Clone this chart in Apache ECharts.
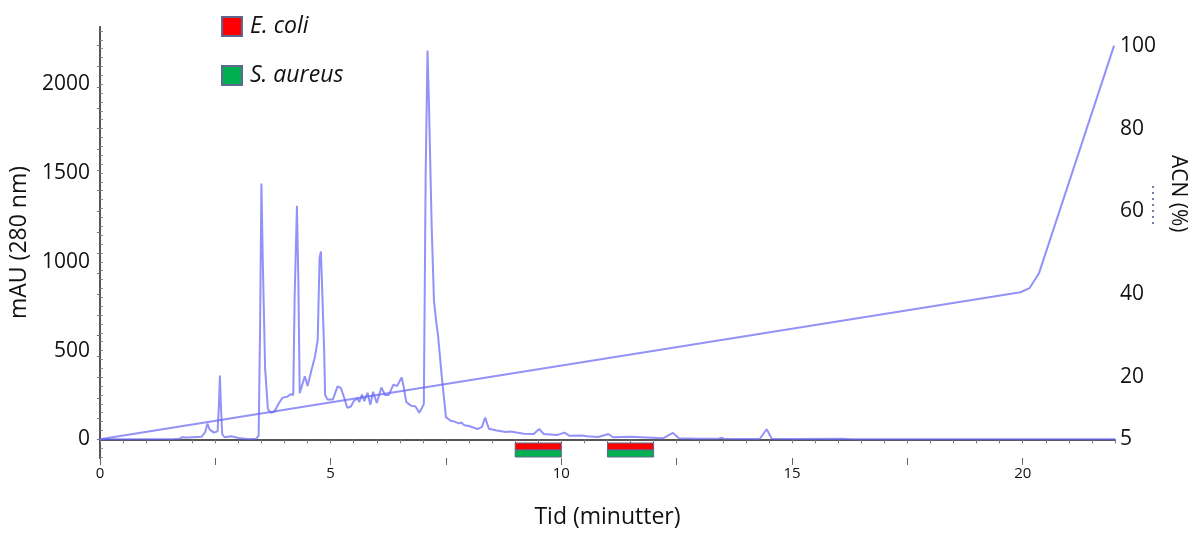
<!DOCTYPE html>
<html>
<head>
<meta charset="utf-8">
<script src="https://cdn.jsdelivr.net/npm/echarts@6/dist/echarts.min.js"></script>
<style>
  html, body { margin: 0; padding: 0; background: #fff; }
  #chart { width: 1193px; height: 534px; }
</style>
</head>
<body>
<div id="chart"></div>
<script>
// chromatogram (280 nm), time in minutes
const times = [0, 1.0, 1.6, 1.72, 1.78, 1.9, 2.2, 2.28, 2.33, 2.38, 2.47, 2.55, 2.58, 2.6, 2.62, 2.65, 2.7, 2.85, 3.0, 3.2,
  3.38, 3.44, 3.47, 3.5, 3.53, 3.58, 3.64, 3.7, 3.78, 3.88, 3.96, 4.06, 4.14, 4.19, 4.22, 4.27, 4.3, 4.33, 4.36, 4.44,
  4.5, 4.53, 4.58, 4.66, 4.72, 4.76, 4.79, 4.82, 4.86, 4.88, 4.93, 5.05, 5.15, 5.22, 5.3, 5.36, 5.44, 5.5, 5.58, 5.62,
  5.68, 5.73, 5.8, 5.86, 5.92, 6.0, 6.1, 6.18, 6.26, 6.36, 6.44, 6.54, 6.58, 6.64, 6.74, 6.84, 6.92, 6.98, 7.02, 7.06,
  7.1, 7.13, 7.19, 7.24, 7.29, 7.33, 7.41, 7.5, 7.6, 7.68, 7.78, 7.83, 7.9, 8.0, 8.18, 8.28, 8.35, 8.43, 8.6, 8.8, 8.9,
  9.19, 9.4, 9.52, 9.62, 9.9, 10.07, 10.17, 10.45, 10.55, 10.8, 11.02, 11.12, 11.5, 12.2, 12.42, 12.55, 13.0, 13.42, 13.47, 13.53,
  14.3, 14.45, 14.56, 15.0, 16.1, 16.3, 18.0, 20.0, 22.0];
const absorbance = [0, 0, 2, 3, 12, 10, 14, 40, 88, 55, 38, 45, 200, 360, 200, 30, 12, 18, 8, 2,
  3, 20, 600, 1440, 1000, 400, 170, 150, 155, 205, 235, 240, 255, 250, 800, 1315, 900, 260, 270, 355,
  300, 295, 385, 465, 560, 1020, 1058, 1050, 500, 250, 225, 225, 298, 290, 230, 178, 185, 215, 232, 210,
  252, 215, 262, 195, 268, 205, 292, 250, 250, 308, 300, 348, 300, 210, 190, 185, 150, 178, 200, 1500,
  2190, 1900, 1200, 780, 660, 580, 350, 125, 105, 100, 90, 95, 80, 75, 58, 70, 122, 60, 50, 42, 44,
  31, 30, 58, 30, 24, 38, 20, 22, 18, 13, 30, 12, 14, 6, 36, 6, 3, 5, 9, 4,
  2, 57, 4, 2, 4, 1, 0, 0, 0];

// acetonitrile gradient (%)
const gradTimes = [0, 19.95, 20.15, 20.35, 21.98];
const gradAcn = [5, 40.5, 41.5, 45, 100];

// collected fractions [start, end] in minutes
const ecoliFractions = [[9, 10], [11, 12]];
const saureusFractions = [[9, 10], [11, 12]];

// tick labels
const xLabels = [0, 5, 10, 15, 20];
const mauLabels = [0, 500, 1000, 1500, 2000];
const acnLabels = [5, 20, 40, 60, 80, 100];

const range = (a, b, step) => {
  const out = [];
  for (let v = a; v <= b + 1e-9; v += step) out.push(+v.toFixed(3));
  return out;
};

const chart = echarts.init(document.getElementById('chart'));

const fractionItem = (top, fill) => (params, api) => {
  const p0 = api.coord([api.value(0), 0]);
  const p1 = api.coord([api.value(1), 0]);
  const bottom = params.coordSys.y + params.coordSys.height;
  return {
    type: 'rect',
    shape: { x: p0[0], y: bottom + top, width: p1[0] - p0[0], height: 7 },
    style: { fill: fill, stroke: '#5a6a8c', lineWidth: 1 }
  };
};

const labelFont = { color: '#111', fontFamily: 'Open Sans', fontSize: 21 };
const plain = (v) => String(v);

chart.setOption({
  backgroundColor: '#fff',
  animation: false,
  grid: { left: 98, right: 78, top: 27, bottom: 70 },
  legend: {
    orient: 'vertical',
    left: 216,
    top: 10,
    itemWidth: 20,
    itemHeight: 19,
    itemGap: 26,
    icon: 'rect',
    data: ['E. coli', 'S. aureus'],
    textStyle: { color: '#111', fontFamily: 'Open Sans', fontStyle: 'italic', fontSize: 23, padding: [0, 0, 0, 3] }
  },
  xAxis: [
    {
      type: 'value', min: 0, max: 22,
      name: 'Tid (minutter)', nameLocation: 'middle', nameGap: 48,
      nameTextStyle: { color: '#111', fontFamily: 'Open Sans', fontSize: 23 },
      axisLine: { lineStyle: { color: '#555', width: 2 } },
      axisTick: { customValues: range(0, 22, 0.5), length: 4, lineStyle: { color: '#777' } },
      axisLabel: { customValues: xLabels, formatter: plain, color: '#111', fontFamily: 'Open Sans', fontSize: 15, margin: 8 },
      splitLine: { show: false }
    },
    {
      type: 'value', min: 0, max: 22, position: 'bottom',
      axisLine: { show: false },
      axisTick: { customValues: range(0, 22, 2.5), length: 7, lineStyle: { color: '#666' } },
      axisLabel: { show: false },
      splitLine: { show: false }
    }
  ],
  yAxis: [
    {
      type: 'value', min: -105, max: 2322,
      name: 'mAU (280 nm)', nameLocation: 'middle', nameGap: 56,
      nameTextStyle: { color: '#111', fontFamily: 'Open Sans', fontSize: 23 },
      axisLine: { show: true, lineStyle: { color: '#777', width: 2 } },
      axisTick: { customValues: range(-100, 2300, 50), length: 3, inside: true, lineStyle: { color: '#888' } },
      axisLabel: Object.assign({ customValues: mauLabels, formatter: plain, margin: 10 }, labelFont),
      splitLine: { show: false }
    },
    {
      type: 'value', min: 0.5, max: 104.5, position: 'right',
      axisLine: { show: true, lineStyle: { color: '#555', width: 2 } },
      axisTick: { customValues: range(5, 100, 5), length: 3, inside: true, lineStyle: { color: '#777' } },
      axisLabel: Object.assign({ customValues: acnLabels, formatter: plain, margin: 5 }, labelFont),
      splitLine: { show: false }
    }
  ],
  graphic: [
    {
      type: 'text', left: 1167, top: 155, rotation: -Math.PI / 2,
      style: { text: 'ACN (%)', fill: '#111', font: '21px "Open Sans"' }
    },
    {
      type: 'line', shape: { x1: 1153, y1: 186, x2: 1153, y2: 226 },
      style: { stroke: '#6f80a8', lineWidth: 2, lineDash: [2, 4] }
    }
  ],
  series: [
    {
      name: 'ACN', type: 'line', yAxisIndex: 1, symbol: 'none',
      lineStyle: { color: 'rgba(100,100,245,0.7)', width: 2 },
      data: gradTimes.map((t, i) => [t, gradAcn[i]]),
      z: 3
    },
    {
      name: 'A280', type: 'line', yAxisIndex: 0, symbol: 'none',
      lineStyle: { color: 'rgba(100,100,245,0.7)', width: 2 },
      data: times.map((t, i) => [t, absorbance[i]]),
      z: 3
    },
    {
      name: 'E. coli', type: 'custom', yAxisIndex: 0,
      itemStyle: { color: '#ff0000', borderColor: '#5a6a8c', borderWidth: 1 },
      encode: { x: [0, 1] },
      renderItem: fractionItem(-15, '#ff0000'),
      data: ecoliFractions,
      z: 4
    },
    {
      name: 'S. aureus', type: 'custom', yAxisIndex: 0,
      itemStyle: { color: '#00b050', borderColor: '#5a6a8c', borderWidth: 1 },
      encode: { x: [0, 1] },
      renderItem: fractionItem(-8, '#00b050'),
      data: saureusFractions,
      z: 4
    }
  ]
});
</script>
</body>
</html>
